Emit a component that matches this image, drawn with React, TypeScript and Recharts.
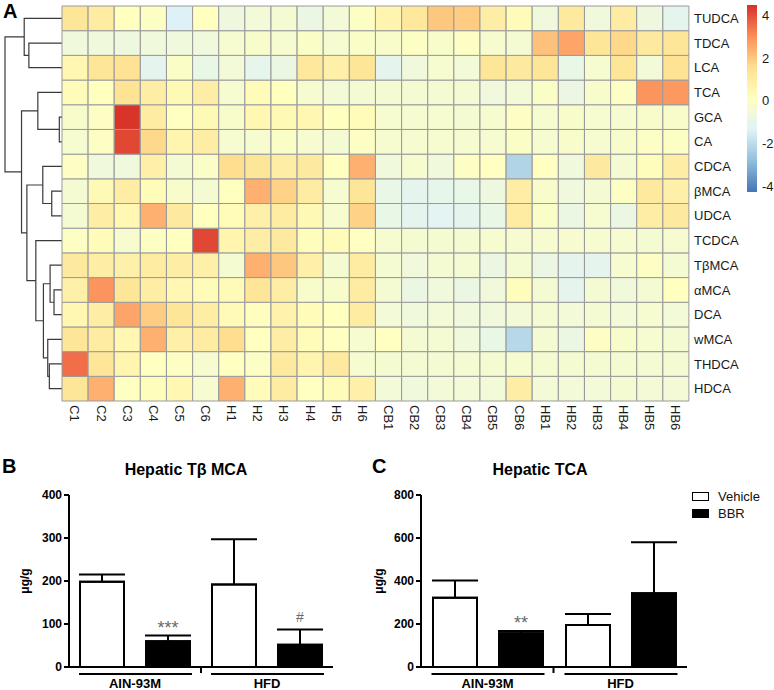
import React from "react";
import {
  BarChart,
  Bar,
  Cell,
  XAxis,
  YAxis,
  ScatterChart,
  Scatter,
  ErrorBar,
  LabelList,
  Legend,
} from "recharts";

// ---------- panel A: heatmap ----------
const sampleLabels = [
  "C1", "C2", "C3", "C4", "C5", "C6",
  "H1", "H2", "H3", "H4", "H5", "H6",
  "CB1", "CB2", "CB3", "CB4", "CB5", "CB6",
  "HB1", "HB2", "HB3", "HB4", "HB5", "HB6",
];

const bileAcids = [
  "TUDCA", "TDCA", "LCA", "TCA", "GCA", "CA", "CDCA", "βMCA",
  "UDCA", "TCDCA", "TβMCA", "αMCA", "DCA", "wMCA", "THDCA", "HDCA",
];

// z-scores, one row per bile acid (same order as bileAcids), columns as sampleLabels
const zScores = [
  [1.3, 1.0, 0.1, 0.0, -1.4, 0.1, -0.7, -0.5, -0.4, -0.8, -0.5, 0.0, 0.6, 1.2, 2.0, 1.9, 0.9, 0.3, -0.6, 1.1, -0.6, 1.0, -0.7, -1.1],
  [-0.6, -0.6, -0.7, -0.6, -0.6, -0.6, -0.3, -0.2, -0.3, -0.1, -0.3, -0.1, -0.2, 0.0, -0.2, 0.0, -0.3, -0.4, 2.1, 2.6, 1.3, 1.7, 1.1, 1.3],
  [0.5, 1.3, 1.4, -1.1, -0.1, -0.9, -0.5, -1.0, -0.8, 1.2, 0.8, 1.3, -1.1, -0.6, -0.3, -0.5, 1.3, 1.1, 1.3, -0.9, -0.3, 1.3, -0.5, 1.4],
  [0.3, 0.1, 1.4, 0.9, 0.4, 0.9, -0.3, 0.3, 0.1, -0.3, -0.5, -0.4, -0.4, -0.4, -0.4, -0.4, -0.6, -0.5, -0.1, -0.8, -0.2, 0.0, 2.9, 2.8],
  [-0.2, 0.0, 4.4, 1.0, 0.05, 0.4, -0.2, 0.5, 0.4, 0.5, 0.1, 0.3, -0.3, -0.3, -0.3, -0.4, -0.3, 0.0, -0.3, -0.2, -0.3, -0.3, -0.2, -0.2],
  [-0.3, 0.0, 4.1, 1.7, 0.6, 0.9, -0.3, -0.3, -0.1, -0.3, -0.4, 0.0, -0.3, -0.3, -0.3, -0.3, -0.3, -0.1, -0.3, -0.2, -0.3, -0.2, -0.05, 0.0],
  [0.0, -0.6, -0.6, 0.8, -0.4, -0.1, 1.6, 1.3, 0.9, 1.1, 0.1, 2.4, -0.6, -0.3, -0.6, 0.0, 0.05, -2.2, 0.05, -0.6, 1.1, -0.4, 0.2, 0.9],
  [-0.4, 0.4, 0.9, 0.3, -0.2, -0.4, 0.1, 2.4, 1.8, 1.0, -0.3, 1.3, -0.9, -1.1, -1.0, -0.9, -0.7, 0.9, -0.2, -0.6, -0.4, 0.0, 1.1, 0.8],
  [-0.4, 0.9, 0.5, 2.4, 1.1, 0.1, 0.3, 0.8, 1.0, 0.4, -0.3, 1.8, -0.9, -1.1, -1.2, -1.1, -0.9, 1.0, -0.1, -0.8, -0.3, -0.8, 0.9, 1.1],
  [0.0, 0.3, -0.3, 0.0, 0.1, 4.1, 0.6, 0.9, 1.1, 0.2, 0.3, 0.05, -0.3, -0.35, -0.35, -0.35, -0.3, -0.3, -0.3, -0.3, -0.3, -0.3, -0.35, -0.3],
  [1.1, 0.9, 0.8, 1.0, 0.9, 0.8, -0.35, 2.4, 2.0, 0.8, -0.35, 1.0, -0.4, -0.6, -0.4, -0.4, -0.8, -0.4, -0.8, -1.1, -1.1, -0.3, 0.0, -0.4],
  [0.8, 2.9, 1.3, 0.9, 0.5, 0.3, 0.35, 1.3, 0.9, -0.2, -0.2, 1.0, -0.4, -0.8, -0.6, -0.8, -0.6, 0.2, -0.4, -1.1, -0.4, -0.6, -0.4, 0.1],
  [0.5, 0.9, 2.6, 1.9, 1.3, 0.9, 0.35, 0.15, 0.7, 0.25, 0.1, 1.0, -0.5, -0.6, -0.5, -0.6, -0.6, -0.5, -0.4, -0.5, -0.4, -0.5, -0.3, -0.5],
  [1.3, 1.0, 0.5, 2.4, 0.8, 1.0, 1.6, 0.1, 0.9, 0.25, 0.05, -0.3, 0.05, -0.4, -0.4, -0.6, -0.9, -2.1, -0.4, -0.8, 0.0, -0.2, -0.3, -0.4],
  [3.5, 1.3, 0.6, 0.05, 0.0, -0.3, 0.05, -0.05, 1.1, 0.6, 1.1, -0.3, -0.35, -0.4, -0.4, -0.4, -0.35, -0.3, -0.35, -0.35, -0.35, -0.35, -0.4, -0.4],
  [1.3, 2.4, 0.05, 0.2, 0.5, -0.3, 2.4, 0.25, 1.0, 0.05, 0.3, 0.8, -0.5, -0.6, -0.5, -0.5, -0.5, 0.9, -0.5, -0.5, -0.5, -0.4, -0.45, -0.45],
];

// row dendrogram, hclust style: negative = leaf (-(row+1)), positive = earlier merge (1-based)
const rowMerges: [number, number, number][] = [
  [-2, -3, 5.81],
  [-1, 1, 6.63],
  [-5, -6, 0.47],
  [-4, 3, 4.24],
  [-8, -9, 1.8],
  [-7, 5, 3.37],
  [-12, -13, 1.4],
  [-11, 7, 2.09],
  [-15, -16, 2.22],
  [-14, 9, 2.5],
  [8, 10, 3.26],
  [-10, 11, 4.59],
  [6, 12, 6.16],
  [4, 13, 7.1],
  [2, 14, 10],
];

const legendTicks = [-4, -2, 0, 2, 4];
const zMin = -4.25;
const zMax = 4.47;

// ---------- panels B and C ----------
const diets = ["AIN-93M", "HFD"];
const treatments = ["Vehicle", "BBR"];

const tbmcaVehicle = [198, 192];
const tbmcaVehicleErr = [17, 105];
const tbmcaBbr = [60, 52];
const tbmcaBbrErr = [13, 35];
const tbmcaSig = ["***", "#"];

const tcaVehicle = [322, 195];
const tcaVehicleErr = [80, 52];
const tcaBbr = [157, 343];
const tcaBbrErr = [11, 237];
const tcaSig = ["**", ""];

const palette = ["#4575B4", "#91BFDB", "#E0F3F8", "#FFFFBF", "#FEE090", "#FC8D59", "#D73027"];

function hexToRgb(h: string) {
  const n = parseInt(h.slice(1), 16);
  return [(n >> 16) & 255, (n >> 8) & 255, n & 255];
}

function zColor(v: number) {
  const t = Math.max(0, Math.min(1, (v - zMin) / (zMax - zMin))) * (palette.length - 1);
  const i = Math.min(Math.floor(t), palette.length - 2);
  const f = t - i;
  const a = hexToRgb(palette[i]);
  const b = hexToRgb(palette[i + 1]);
  const c = a.map((x, k) => Math.round(x + (b[k] - x) * f));
  return `rgb(${c[0]},${c[1]},${c[2]})`;
}

const heatData = sampleLabels.map((s) => {
  const row: Record<string, any> = { sample: s };
  bileAcids.forEach((_, ri) => {
    row[`r${ri}`] = 1;
  });
  return row;
});

// dendrogram segments
function buildDendro() {
  const nodes: { y: number; h: number }[] = [];
  const get = (id: number) => (id < 0 ? { y: -id - 1 + 0.5, h: 0 } : nodes[id - 1]);
  const segs: { x: number; y: number }[][] = [];
  rowMerges.forEach(([l, r, h]) => {
    const a = get(l);
    const b = get(r);
    segs.push([
      { x: a.h, y: a.y },
      { x: h, y: a.y },
      { x: h, y: b.y },
      { x: b.h, y: b.y },
    ]);
    nodes.push({ y: (a.y + b.y) / 2, h });
  });
  return segs;
}
const dendroSegments = buildDendro();

const tbmcaData = diets.map((d, i) => ({
  diet: d,
  vehicle: tbmcaVehicle[i],
  vehicleErr: [0, tbmcaVehicleErr[i]],
  bbr: tbmcaBbr[i],
  bbrErr: [0, tbmcaBbrErr[i]],
  sig: tbmcaSig[i],
}));

const tcaData = diets.map((d, i) => ({
  diet: d,
  vehicle: tcaVehicle[i],
  vehicleErr: [0, tcaVehicleErr[i]],
  bbr: tcaBbr[i],
  bbrErr: [0, tcaBbrErr[i]],
  sig: tcaSig[i],
}));

const ColumnTick = (props: any) => {
  const { x, y, payload } = props;
  return (
    <text transform={`translate(${x - 4.6},${y + 4}) rotate(90)`} fontSize={13} fill="#1a1a1a" textAnchor="start">
      {payload.value}
    </text>
  );
};

const GroupTick = (props: any) => {
  const { x, y, payload, index } = props;
  return (
    <g>
      <line x1={x - 56} x2={x + 57} y1={y + 7} y2={y + 7} stroke="#000" strokeWidth={2} />
      <text x={x} y={y + 21} textAnchor="middle" fontSize={13} fontWeight="bold" fill="#000">
        {payload.value}
      </text>
      {index === 0 && <line x1={x + 66} x2={x + 66} y1={y} y2={y + 6} stroke="#000" strokeWidth={2} />}
    </g>
  );
};

const sigLabel = (errs: number[], pxPerUnit: number) => (props: any) => {
  const { x, y, width, index, value } = props;
  if (!value) return null;
  const top = y - errs[index] * pxPerUnit;
  const stars = String(value).includes("*");
  return (
    <text
      x={x + width / 2}
      y={top - (stars ? 2 : 8)}
      textAnchor="middle"
      fontSize={stars ? 18 : 14}
      fill="#6a6a6a"
    >
      {value}
    </text>
  );
};

const yLabel = (dx: number) => (props: any) => {
  const { viewBox } = props;
  const cy = viewBox.y + viewBox.height / 2;
  const cx = viewBox.x + dx;
  return (
    <text transform={`translate(${cx},${cy}) rotate(-90)`} textAnchor="middle" fontSize={12} fontWeight="bold" fill="#000">
      μg/g
    </text>
  );
};

const TreatmentLegend = (props: any) => {
  const items = [...(props.payload || [])].sort(
    (a: any, b: any) => treatments.indexOf(a.value) - treatments.indexOf(b.value)
  );
  return (
    <div>
      {items.map((p: any) => (
        <div key={p.value} style={{ display: "flex", alignItems: "center", height: 17, fontSize: 13, color: "#111" }}>
          <span
            style={{
              display: "inline-block",
              width: 15,
              height: 7,
              border: "1.5px solid #000",
              background: p.color,
              marginRight: 9,
            }}
          />
          {p.value}
        </div>
      ))}
    </div>
  );
};

const axisStyle = { stroke: "#000", strokeWidth: 2 };
const tickFont = { fontSize: 12, fontWeight: "bold", fill: "#000" };

const Panel = ({
  data,
  yMax,
  yTicks,
  errsBbr,
  legendLeft,
  yWidth,
  leftMargin,
  rightMargin,
  width,
  labelDx,
}: any) => (
  <BarChart
    width={width}
    height={250}
    data={data}
    margin={{ top: 55, right: rightMargin, bottom: 0, left: leftMargin }}
    barSize={44}
    barGap={22}
  >
    <XAxis dataKey="diet" axisLine={axisStyle} tickLine={false} tickSize={0} tickMargin={0} height={23} interval={0} tick={<GroupTick />} />
    <YAxis
      domain={[0, yMax]}
      ticks={yTicks}
      width={yWidth}
      axisLine={axisStyle}
      tickLine={axisStyle}
      tickSize={5}
      tickMargin={2}
      tick={tickFont}
      label={yLabel(labelDx)}
    />
    {legendLeft != null && (
      <Legend
        layout="vertical"
        align="center"
        verticalAlign="middle"
        wrapperStyle={{ left: legendLeft, top: 48, width: 80 }}
        content={<TreatmentLegend />}
      />
    )}
    <Bar dataKey="vehicle" name={treatments[0]} fill="#ffffff" stroke="#000" strokeWidth={2} legendType="rect" isAnimationActive={false}>
      <ErrorBar dataKey="vehicleErr" direction="y" width={23} stroke="#000" strokeWidth={2} />
    </Bar>
    <Bar dataKey="bbr" name={treatments[1]} fill="#000000" stroke="#000" strokeWidth={2} legendType="rect" isAnimationActive={false}>
      <ErrorBar dataKey="bbrErr" direction="y" width={23} stroke="#000" strokeWidth={2} />
      <LabelList dataKey="sig" content={sigLabel(errsBbr, 172 / yMax)} />
    </Bar>
  </BarChart>
);

const abs = (left: number, top: number): React.CSSProperties => ({ position: "absolute", left, top });

export default function App() {
  return (
    <div
      style={{
        position: "absolute",
        left: 0,
        top: 0,
        width: 774,
        height: 690,
        background: "#fff",
        fontFamily: '"Liberation Sans", Arial, sans-serif',
        overflow: "hidden",
      }}
    >
      {/* dendrogram */}
      <div style={abs(0, 0)}>
        <ScatterChart width={62} height={402} margin={{ top: 6, right: 0, bottom: 1, left: 5 }}>
          <XAxis type="number" dataKey="x" domain={[0, 10]} reversed hide />
          <YAxis type="number" dataKey="y" domain={[0, 16]} reversed hide />
          {dendroSegments.map((seg, i) => (
            <Scatter
              key={i}
              data={seg}
              line={{ stroke: "#3a3a3a", strokeWidth: 1.2 }}
              shape={() => <g />}
              legendType="none"
              isAnimationActive={false}
            />
          ))}
        </ScatterChart>
      </div>

      {/* heatmap */}
      <div style={abs(0, 0)}>
        <BarChart
          width={774}
          height={440}
          data={heatData}
          margin={{ top: 6, right: 25, bottom: 9, left: 62 }}
          barCategoryGap={0}
          barGap={0}
        >
          <XAxis dataKey="sample" interval={0} axisLine={false} tickLine={false} tickSize={0} tickMargin={0} height={30} tick={<ColumnTick />} />
          <YAxis
            orientation="right"
            type="number"
            domain={[0, 16]}
            ticks={bileAcids.map((_, i) => i + 0.5)}
            tickFormatter={(v: number) => bileAcids[15 - Math.floor(v)]}
            width={60}
            axisLine={false}
            tickLine={false}
            tickSize={0}
            tickMargin={5}
            tick={{ fontSize: 13, fill: "#1a1a1a" }}
            interval={0}
          />
          {bileAcids
            .map((_, ri) => ri)
            .reverse()
            .map((ri) => (
              <Bar key={ri} dataKey={`r${ri}`} stackId="cells" isAnimationActive={false}>
                {sampleLabels.map((s, ci) => (
                  <Cell key={s} fill={zColor(zScores[ri][ci])} stroke="#9a9a9a" strokeWidth={1} />
                ))}
              </Bar>
            ))}
        </BarChart>
      </div>

      {/* colour key */}
      <div style={abs(740, 0)}>
        <BarChart
          width={34}
          height={200}
          data={[{ key: "z", range: [zMin, zMax] }]}
          margin={{ top: 5, right: 0, bottom: 8, left: 7 }}
          barCategoryGap={0}
          style={{ overflow: "visible" }}
        >
          <defs>
            <linearGradient id="zgrad" x1="0" y1="0" x2="0" y2="1">
              {palette
                .slice()
                .reverse()
                .map((c, i) => (
                  <stop key={c} offset={`${(i / (palette.length - 1)) * 100}%`} stopColor={c} />
                ))}
            </linearGradient>
          </defs>
          <XAxis dataKey="key" hide />
          <YAxis
            orientation="right"
            type="number"
            domain={[zMin, zMax]}
            ticks={legendTicks}
            width={17}
            axisLine={false}
            tickLine={false}
            tickSize={0}
            tickMargin={5}
            tick={{ fontSize: 13, fill: "#1a1a1a" }}
            allowDataOverflow
          />
          <Bar dataKey="range" fill="url(#zgrad)" isAnimationActive={false} />
        </BarChart>
      </div>

      {/* panel letters and titles */}
      <div style={{ ...abs(3, 0), fontSize: 20, fontWeight: "bold" }}>A</div>
      <div style={{ ...abs(2, 455), fontSize: 20, fontWeight: "bold" }}>B</div>
      <div style={{ ...abs(372, 455), fontSize: 20, fontWeight: "bold" }}>C</div>
      <div style={{ ...abs(86, 461), width: 200, textAlign: "center", fontSize: 16, fontWeight: "bold" }}>Hepatic Tβ MCA</div>
      <div style={{ ...abs(440, 461), width: 200, textAlign: "center", fontSize: 16, fontWeight: "bold" }}>Hepatic TCA</div>

      {/* panel B */}
      <div style={abs(0, 440)}>
        <Panel
          data={tbmcaData}
          yMax={400}
          yTicks={[0, 100, 200, 300, 400]}
          errsBbr={tbmcaBbrErr}
          legendLeft={null}
          yWidth={45}
          leftMargin={24}
          rightMargin={47}
          width={380}
          labelDx={5}
        />
      </div>

      {/* panel C */}
      <div style={abs(370, 440)}>
        <Panel
          data={tcaData}
          yMax={800}
          yTicks={[0, 200, 400, 600, 800]}
          errsBbr={tcaBbrErr}
          legendLeft={322}
          yWidth={37}
          leftMargin={14}
          rightMargin={87}
          width={404}
          labelDx={-1}
        />
      </div>
    </div>
  );
}
